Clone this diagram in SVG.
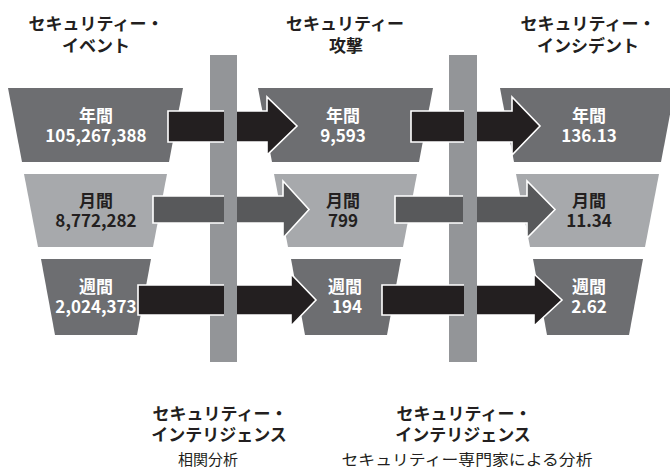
<svg xmlns="http://www.w3.org/2000/svg" width="670" height="468" viewBox="0 0 670 468">
<style>
text{font-family:"Noto Sans CJK JP","Noto Sans",sans-serif;text-anchor:middle}
.h{font-size:17px;font-weight:bold;fill:#231f20}
.n{font-size:17px;font-weight:bold}
.w{fill:#ffffff}
.k{fill:#231f20}
.dk{fill:#6d6e71}
.lt{fill:#a7a9ac}
.bar{fill:#939598}
.sub{font-size:15px;fill:#231f20}
.blk{fill:#231f20}
.gry{fill:#58595b}
.edge{fill:none;stroke:#ffffff;stroke-width:1.6;stroke-linejoin:miter}
</style>
<rect width="670" height="468" fill="#ffffff"/>
<g id="hdr-event"><text class="h" x="96" y="30">セキュリティー・</text><text class="h" x="96" y="52">イベント</text></g>
<g id="hdr-attack"><text class="h" x="345" y="30">セキュリティー</text><text class="h" x="346" y="52">攻撃</text></g>
<g id="hdr-incident"><text class="h" x="588" y="30">セキュリティー・</text><text class="h" x="588" y="52">インシデント</text></g>

<g id="ev-year"><polygon class="dk" points="8,88 183,88 169,162 22,162"/><text class="n w" x="96" y="122">年間</text><text class="n w" x="96" y="142">105,267,388</text></g>
<g id="ev-month"><polygon class="lt" points="24,174 167,174 153,247 38,247"/><text class="n k" x="96" y="207">月間</text><text class="n k" x="96" y="227">8,772,282</text></g>
<g id="ev-week"><polygon class="dk" points="41,259 151,259 137,335 55,335"/><text class="n w" x="96" y="293">週間</text><text class="n w" x="96" y="313">2,024,373</text></g>

<g id="at-year"><polygon class="dk" points="258,88 433,88 419,162 272,162"/><text class="n w" x="343" y="122">年間</text><text class="n w" x="343" y="142">9,593</text></g>
<g id="at-month"><polygon class="lt" points="274,174 417,174 403,247 288,247"/><text class="n k" x="343" y="207">月間</text><text class="n k" x="343" y="227">799</text></g>
<g id="at-week"><polygon class="dk" points="291,259 401,259 387,335 305,335"/><text class="n w" x="345" y="293">週間</text><text class="n w" x="347" y="313">194</text></g>

<g id="in-year"><polygon class="dk" points="500,88 675,88 661,162 514,162"/><text class="n w" x="589" y="122">年間</text><text class="n w" x="589" y="142">136.13</text></g>
<g id="in-month"><polygon class="lt" points="516,174 659,174 645,247 530,247"/><text class="n k" x="589" y="207">月間</text><text class="n k" x="589" y="227">11.34</text></g>
<g id="in-week"><polygon class="dk" points="533,259 643,259 629,335 547,335"/><text class="n w" x="589" y="293">週間</text><text class="n w" x="589" y="313">2.62</text></g>

<g id="intel-correlation"><rect class="bar" x="210" y="55" width="27" height="307"/><text class="h" x="220" y="420">セキュリティー・</text><text class="h" x="219" y="441">インテリジェンス</text><text class="sub" x="208" y="465">相関分析</text></g>
<g id="intel-expert"><rect class="bar" x="449" y="55" width="28" height="307"/><text class="h" x="464" y="420">セキュリティー・</text><text class="h" x="463" y="441">インテリジェンス</text><text class="sub" x="467" y="465" textLength="251" lengthAdjust="spacingAndGlyphs">セキュリティー専門家による分析</text></g>

<g id="connectors">
<path class="blk" d="M168,111H224V142H168Z M237,111H267V97L297,126L267,155V142H237Z"/>
<path class="edge" d="M224,111H168V142H224 M237,111H267V97L297,126L267,155V142H237"/>
<path class="blk" d="M411,111H464V142H411Z M477,111H512V97L540,126L512,155V142H477Z"/>
<path class="edge" d="M464,111H411V142H464 M477,111H512V97L540,126L512,155V142H477"/>
<path class="gry" d="M153,196H224V223H153Z M237,196H283V181L309,209.5L283,238V223H237Z"/>
<path class="edge" d="M224,196H153V223H224 M237,196H283V181L309,209.5L283,238V223H237"/>
<path class="gry" d="M395,196H463V223H395Z M477,196H527V181L555,209.5L527,238V223H477Z"/>
<path class="edge" d="M463,196H395V223H463 M477,196H527V181L555,209.5L527,238V223H477"/>
<path class="blk" d="M138,285H224V315H138Z M237,285H291V274L316,300L291,326V315H237Z"/>
<path class="edge" d="M224,285H138V315H224 M237,285H291V274L316,300L291,326V315H237"/>
<path class="blk" d="M382,285H464V315H382Z M477,285H534V274L562,300L534,326V315H477Z"/>
<path class="edge" d="M464,285H382V315H464 M477,285H534V274L562,300L534,326V315H477"/>
</g>
</svg>
